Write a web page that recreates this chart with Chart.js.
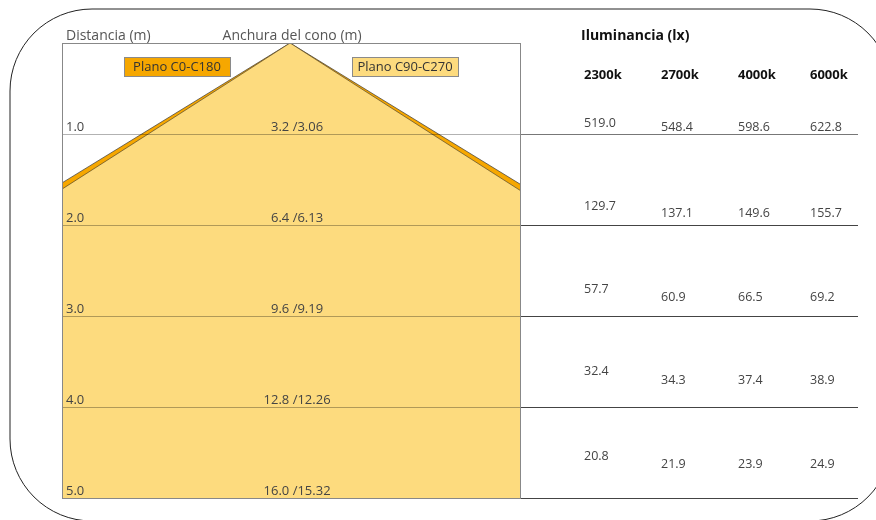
<!DOCTYPE html>
<html>
<head>
<meta charset="utf-8">
<script src="https://cdn.jsdelivr.net/npm/chart.js@4"></script>
<style>
  body { margin: 0; background: #fff; }
</style>
</head>
<body>
<canvas id="cone-chart" width="876" height="520"></canvas>
<script>
// Distances and cone widths
const distances = [1.0, 2.0, 3.0, 4.0, 5.0];
const distanceLabels = ['1.0', '2.0', '3.0', '4.0', '5.0'];
const widthC0 = [3.2, 6.4, 9.6, 12.8, 16.0];
const widthC90 = [3.06, 6.13, 9.19, 12.26, 15.32];
const widthLabels = ['3.2 /3.06', '6.4 /6.13', '9.6 /9.19', '12.8 /12.26', '16.0 /15.32'];

// Illuminance table
const colorTemps = ['2300k', '2700k', '4000k', '6000k'];
const lux2300 = ['519.0', '129.7', '57.7', '32.4', '20.8'];
const lux2700 = ['548.4', '137.1', '60.9', '34.3', '21.9'];
const lux4000 = ['598.6', '149.6', '66.5', '37.4', '23.9'];
const lux6000 = ['622.8', '155.7', '69.2', '38.9', '24.9'];

const FONT = '"Open Sans", "Noto Sans", sans-serif';

// build cone outline from the widths (left side, apex, right side)
function conePoints(widths) {
  const left = widths.map((w, i) => ({x: -w / 2, y: distances[i]})).reverse();
  const right = widths.map((w, i) => ({x: w / 2, y: distances[i]}));
  return [...left, {x: 0, y: 0}, ...right];
}

// rounded frame, box, lines, labels, table
const decorPlugin = {
  id: 'decor',
  beforeDraw(chart) {
    const ctx = chart.ctx;
    // outer rounded frame
    const x = 10, y = 9, w = 882, h = 512, r = 82;
    ctx.save();
    ctx.strokeStyle = '#222';
    ctx.lineWidth = 1;
    ctx.beginPath();
    ctx.moveTo(x + r, y);
    ctx.lineTo(x + w - r, y);
    ctx.arcTo(x + w, y, x + w, y + r, r);
    ctx.lineTo(x + w, y + h - r);
    ctx.arcTo(x + w, y + h, x + w - r, y + h, r);
    ctx.lineTo(x + r, y + h);
    ctx.arcTo(x, y + h, x, y + h - r, r);
    ctx.lineTo(x, y + r);
    ctx.arcTo(x, y, x + r, y, r);
    ctx.stroke();
    ctx.restore();
  },
  afterDatasetsDraw(chart) {
    const ctx = chart.ctx;
    const area = chart.chartArea;
    const xs = chart.scales.x;
    const ys = chart.scales.y;
    const apexX = xs.getPixelForValue(0);
    const tableRight = 858;

    ctx.save();

    // distance lines
    distances.forEach((d, i) => {
      const py = Math.round(ys.getPixelForValue(d)) + 0.5;
      ctx.strokeStyle = 'rgba(0,0,0,0.3)';
      ctx.lineWidth = 1.2;
      ctx.beginPath();
      ctx.moveTo(area.left, py);
      ctx.lineTo(area.right, py);
      ctx.stroke();
      ctx.strokeStyle = i == 0 ? '#777' : '#444';
      ctx.lineWidth = 1.2;
      ctx.beginPath();
      ctx.moveTo(area.right, py);
      ctx.lineTo(tableRight, py);
      ctx.stroke();
    });

    // plot box
    ctx.strokeStyle = '#888';
    ctx.lineWidth = 1;
    ctx.strokeRect(Math.round(area.left) + 0.5, Math.round(area.top) + 0.5,
      Math.round(area.right - area.left), Math.round(area.bottom - area.top));

    // row labels
    ctx.font = `13px ${FONT}`;
    ctx.fillStyle = '#444';
    ctx.textBaseline = 'alphabetic';
    distances.forEach((d, i) => {
      const py = ys.getPixelForValue(d) - 3;
      ctx.textAlign = 'left';
      ctx.fillText(distanceLabels[i], area.left + 4, py);
      ctx.textAlign = 'center';
      ctx.fillText(widthLabels[i], apexX + 7, py);
    });

    // headers
    ctx.font = `14px ${FONT}`;
    ctx.fillStyle = '#555';
    ctx.textAlign = 'left';
    ctx.fillText('Distancia (m)', area.left + 4, 40);
    ctx.textAlign = 'center';
    ctx.fillText('Anchura del cono (m)', apexX + 2, 40);

    // legend boxes
    const boxes = [{x: 124, ds: chart.data.datasets[1]}, {x: 352, ds: chart.data.datasets[0]}];
    ctx.font = `13px ${FONT}`;
    boxes.forEach(b => {
      ctx.fillStyle = b.ds.backgroundColor;
      ctx.fillRect(b.x, 57, 106, 19);
      ctx.strokeStyle = '#8a8a8a';
      ctx.strokeRect(b.x + 0.5, 57.5, 106, 19);
      ctx.fillStyle = '#333';
      ctx.textAlign = 'center';
      ctx.textBaseline = 'middle';
      ctx.fillText(b.ds.label, b.x + 53, 67);
    });

    // illuminance table
    const colX = [584, 661, 738, 810];
    ctx.textAlign = 'left';
    ctx.textBaseline = 'alphabetic';
    ctx.fillStyle = '#111';
    ctx.font = `bold 14px ${FONT}`;
    ctx.fillText('Iluminancia (lx)', 581, 40);
    ctx.font = `bold 13px ${FONT}`;
    colorTemps.forEach((t, c) => ctx.fillText(t, colX[c], 79));

    const cols = [lux2300, lux2700, lux4000, lux6000];
    const firstOffset = [-11, -19, -27, -36, -42];
    const otherOffset = [-7, -12, -19, -27, -34];
    ctx.font = `12.5px ${FONT}`;
    ctx.fillStyle = '#444';
    ctx.textBaseline = 'middle';
    distances.forEach((d, i) => {
      const py = ys.getPixelForValue(d);
      cols.forEach((vals, c) => {
        const off = c == 0 ? firstOffset[i] : otherOffset[i];
        ctx.fillText(vals[i], colX[c], py + off);
      });
    });

    ctx.restore();
  }
};

const ctx = document.getElementById('cone-chart');
new Chart(ctx, {
  type: 'line',
  data: {
    datasets: [
      {
        label: 'Plano C90-C270',
        data: conePoints(widthC90),
        backgroundColor: '#FDDB7E',
        borderColor: 'rgba(70,60,40,0.8)',
        borderWidth: 0.8,
        fill: {value: distances[distances.length - 1]},
        pointRadius: 0,
        tension: 0
      },
      {
        label: 'Plano C0-C180',
        data: conePoints(widthC0),
        backgroundColor: '#F6A700',
        borderColor: 'rgba(60,60,60,0.9)',
        borderWidth: 0.8,
        fill: {value: distances[distances.length - 1]},
        pointRadius: 0,
        tension: 0
      }
    ]
  },
  options: {
    responsive: false,
    animation: false,
    layout: {padding: {left: 62, top: 43, right: 356, bottom: 22}},
    scales: {
      x: {type: 'linear', min: -2.46, max: 2.48, display: false},
      y: {type: 'linear', min: 0, max: 5, reverse: true, display: false}
    },
    plugins: {
      legend: {display: false},
      tooltip: {enabled: false}
    }
  },
  plugins: [decorPlugin]
});
</script>
</body>
</html>
